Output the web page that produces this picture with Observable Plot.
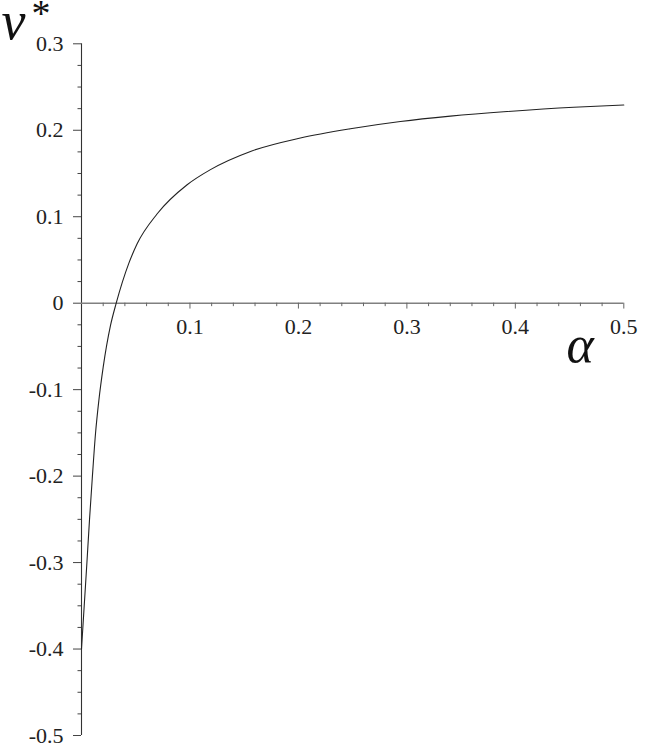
<!DOCTYPE html>
<html>
<head>
<meta charset="utf-8">
<script src="https://cdn.jsdelivr.net/npm/d3@7"></script>
<script src="https://cdn.jsdelivr.net/npm/@observablehq/plot@0.6"></script>
<style>
  html, body { margin: 0; padding: 0; background: #fff; }
  #chart { width: 650px; height: 749px; }
</style>
</head>
<body>
<div id="chart"></div>
<script>
// ---- data ----
const alpha = [0, 0.0025, 0.0050, 0.0074, 0.0099, 0.0129, 0.0160, 0.0200, 0.0267, 0.0320, 0.0436, 0.0513, 0.0698, 0.0974, 0.1189, 0.1558, 0.2018, 0.2479, 0.2940, 0.3401, 0.3924, 0.4538, 0.5];
const nu    = [-0.400, -0.350, -0.300, -0.250, -0.203, -0.151, -0.1125, -0.074, -0.0260, 0.000, 0.0460, 0.0687, 0.1034, 0.1370, 0.1545, 0.1755, 0.1910, 0.2017, 0.2101, 0.2163, 0.2217, 0.2267, 0.2292];

const xMajorTicks = [0.1, 0.2, 0.3, 0.4, 0.5];
const xMajorLabels = ["0.1", "0.2", "0.3", "0.4", "0.5"];
const xMinorTicks = [0.02, 0.04, 0.06, 0.08, 0.12, 0.14, 0.16, 0.18, 0.22, 0.24, 0.26, 0.28, 0.32, 0.34, 0.36, 0.38, 0.42, 0.44, 0.46, 0.48];
const yMajorTicks = [-0.5, -0.4, -0.3, -0.2, -0.1, 0, 0.1, 0.2, 0.3];
const yMajorLabels = ["-0.5", "-0.4", "-0.3", "-0.2", "-0.1", "0", "0.1", "0.2", "0.3"];
const yMinorTicks = [-0.475, -0.45, -0.425, -0.375, -0.35, -0.325, -0.275, -0.25, -0.225, -0.175, -0.15, -0.125, -0.075, -0.05, -0.025, 0.025, 0.05, 0.075, 0.125, 0.15, 0.175, 0.225, 0.25, 0.275];
const xTitle = "α";
const yTitle = "ν";
const yTitleSup = "*";

const curve = alpha.map((a, i) => ({alpha: a, nu: nu[i]}));
const yLabelMap = new Map(yMajorTicks.map((t, i) => [t, yMajorLabels[i]]));
const xLabelData = xMajorTicks.map((t, i) => ({t, label: xMajorLabels[i]}));

const serif = "Liberation Serif";

const chart = Plot.plot({
  width: 650,
  height: 749,
  marginLeft: 81,
  marginRight: 26.7,
  marginTop: 43.3,
  marginBottom: 14,
  style: {fontSize: "22px", color: "#222", background: "#fff", overflow: "visible"},
  x: {domain: [0, 0.5], axis: null, label: null},
  y: {domain: [-0.5, 0.3], axis: null, label: null},
  marks: [
    // y axis
    Plot.ruleX([0], {y1: -0.5, y2: 0.3, stroke: "#333", strokeWidth: 1.1}),
    Plot.axisY(yMinorTicks, {anchor: "left", label: null, tickSize: 3.5, tickFormat: () => "", stroke: "#444"}),
    Plot.axisY(yMajorTicks, {anchor: "left", label: null, tickSize: 8, tickPadding: 10, stroke: "#444",
      tickFormat: d => yLabelMap.get(d), fontSize: 22, fontFamily: serif, fill: "#222", fontVariant: "normal"}),
    // x axis line at y = 0
    Plot.ruleY([0], {x1: 0, x2: 0.5, stroke: "#808080", strokeWidth: 1.6}),
    Plot.ruleX(xMinorTicks, {y1: 0, y2: -0.004, stroke: "#666", strokeWidth: 1}),
    Plot.ruleX(xMajorTicks, {y1: 0, y2: -0.0068, stroke: "#666", strokeWidth: 1}),
    Plot.text(xLabelData, {x: "t", y: 0, text: "label", dy: 24, lineAnchor: "middle",
      fontSize: 22, fontFamily: serif, fill: "#222"}),
    // curve
    Plot.line(curve, {x: "alpha", y: "nu", stroke: "#222", strokeWidth: 1.1, curve: "monotone-x"}),
    // axis titles
    Plot.text([xTitle], {x: 0.5, y: 0, text: d => d, textAnchor: "end", lineAnchor: "bottom",
      dx: -30, dy: 58.5, fontSize: 52, fontFamily: serif, fontStyle: "italic", fill: "#111"}),
    Plot.text([yTitle], {x: 0, y: 0.3, text: d => d, textAnchor: "start", lineAnchor: "bottom",
      dx: -80, dy: -5.3, fontSize: 54, fontFamily: serif, fontStyle: "italic", fill: "#111"}),
    Plot.text([yTitleSup], {x: 0, y: 0.3, text: d => d, textAnchor: "start", lineAnchor: "top",
      dx: -50, dy: -44.3, fontSize: 38, fontFamily: serif, fill: "#111"})
  ]
});
document.getElementById("chart").appendChild(chart);
</script>
</body>
</html>
